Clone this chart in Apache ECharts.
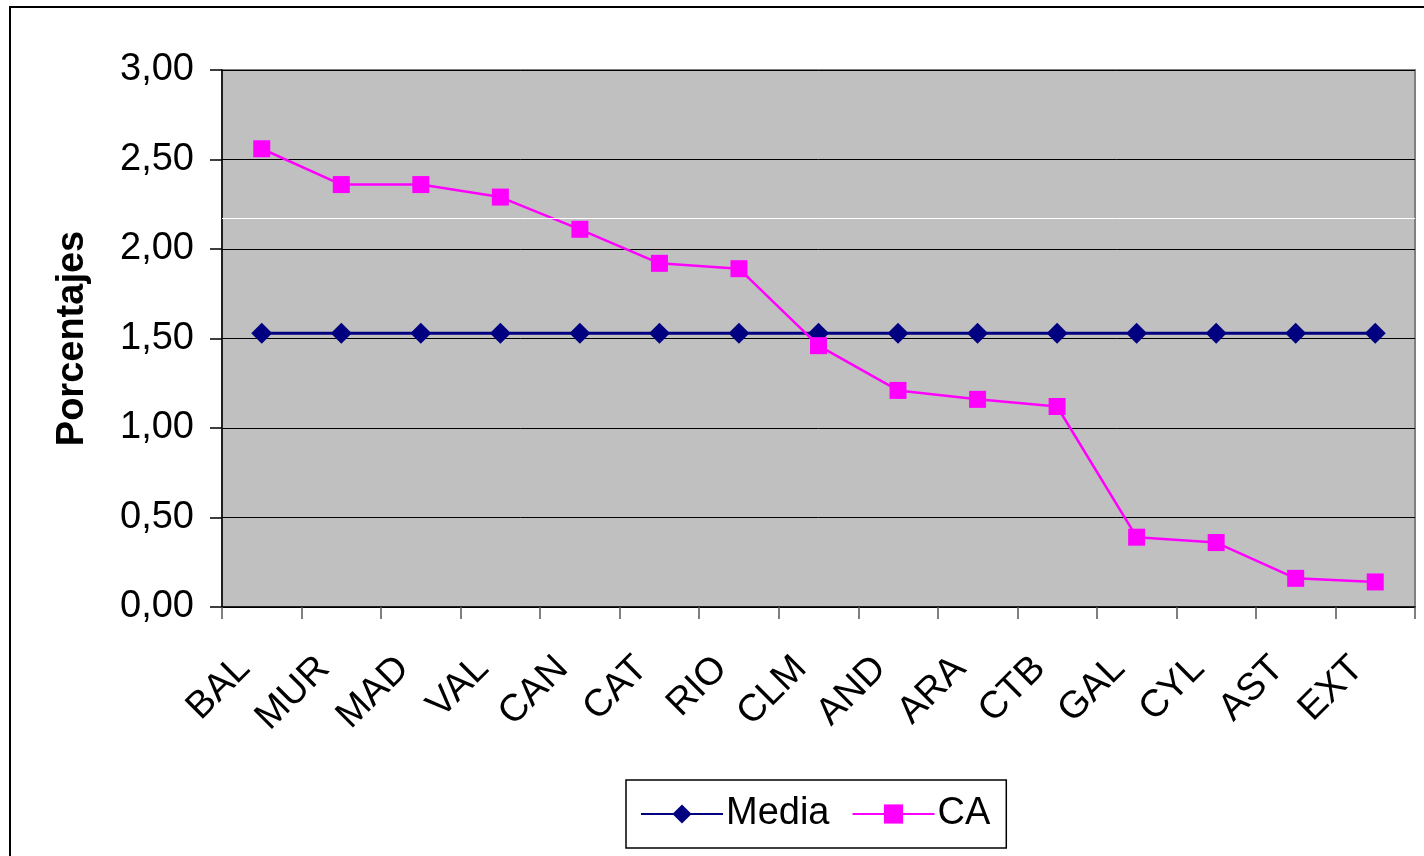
<!DOCTYPE html>
<html>
<head>
<meta charset="utf-8">
<script src="https://cdn.jsdelivr.net/npm/echarts@6/dist/echarts.min.js"></script>
<style>
  html, body { margin: 0; padding: 0; background: #fff; }
  #chart { width: 1424px; height: 856px; }
</style>
</head>
<body>
<div id="chart"></div>
<script>
// Regional percentages compared against the overall mean
const regions = ['BAL', 'MUR', 'MAD', 'VAL', 'CAN', 'CAT', 'RIO', 'CLM', 'AND', 'ARA', 'CTB', 'GAL', 'CYL', 'AST', 'EXT'];
const mediaValues = [1.53, 1.53, 1.53, 1.53, 1.53, 1.53, 1.53, 1.53, 1.53, 1.53, 1.53, 1.53, 1.53, 1.53, 1.53];
const caValues = [2.56, 2.36, 2.36, 2.29, 2.11, 1.92, 1.89, 1.46, 1.21, 1.16, 1.12, 0.39, 0.36, 0.16, 0.14];
const yTicks = { min: 0, max: 3, interval: 0.5 };

const font = 'Liberation Sans, Arial, sans-serif';
const chart = echarts.init(document.getElementById('chart'));

chart.setOption({
  backgroundColor: '#fff',
  animation: false,
  graphic: [{
    type: 'rect',
    shape: { x: 10, y: 7, width: 1430, height: 870 },
    style: { fill: 'none', stroke: '#000', lineWidth: 2 },
    z: 0
  }],
  grid: {
    left: 222, right: 9, top: 70, bottom: 249,
    show: true,
    backgroundColor: '#c0c0c0',
    borderColor: '#808080',
    borderWidth: 2
  },
  legend: {
    left: 626, top: 780,
    padding: [15, 16, 15, 14],
    borderColor: '#000',
    borderWidth: 1.5,
    itemWidth: 82,
    itemHeight: 24,
    itemGap: 22,
    textStyle: { fontFamily: font, fontSize: 38, color: '#000', padding: [0, 0, 0, -2] },
    data: ['Media', 'CA']
  },
  xAxis: {
    type: 'category',
    data: regions,
    boundaryGap: true,
    axisLine: { lineStyle: { color: '#000', width: 1.5 } },
    axisTick: { show: true, length: 12, lineStyle: { color: '#555', width: 1.5 } },
    axisLabel: {
      rotate: 45,
      margin: 38,
      padding: [0, 25, 0, 0],
      fontFamily: font,
      fontSize: 38,
      color: '#000'
    }
  },
  yAxis: {
    type: 'value',
    min: yTicks.min, max: yTicks.max, interval: yTicks.interval,
    name: 'Porcentajes',
    nameLocation: 'middle',
    nameGap: 130,
    nameTextStyle: { fontFamily: font, fontSize: 38, fontWeight: 'bold', color: '#000' },
    axisLine: { show: true, lineStyle: { color: '#000', width: 1.5 } },
    axisTick: { show: true, length: 12, lineStyle: { color: '#000', width: 1.5 } },
    axisLabel: {
      margin: 28,
      fontFamily: font,
      fontSize: 38,
      color: '#000',
      formatter: v => v.toFixed(2).replace('.', ',')
    },
    splitLine: { show: true, lineStyle: { color: '#000', width: 1 } }
  },
  series: [
    {
      name: 'Media',
      type: 'line',
      data: mediaValues,
      symbol: 'diamond',
      symbolSize: 21,
      itemStyle: { color: '#000080' },
      lineStyle: { color: '#000080', width: 3 },
      z: 3,
      markLine: {
        silent: true,
        symbol: 'none',
        label: { show: false },
        lineStyle: { color: '#ffffff', width: 1, type: 'solid' },
        data: [{ yAxis: 2.17 }]
      }
    },
    {
      name: 'CA',
      type: 'line',
      data: caValues,
      symbol: 'rect',
      symbolSize: 17,
      itemStyle: { color: '#ff00ff' },
      lineStyle: { color: '#ff00ff', width: 2.5 },
      z: 4
    }
  ]
});
</script>
</body>
</html>
